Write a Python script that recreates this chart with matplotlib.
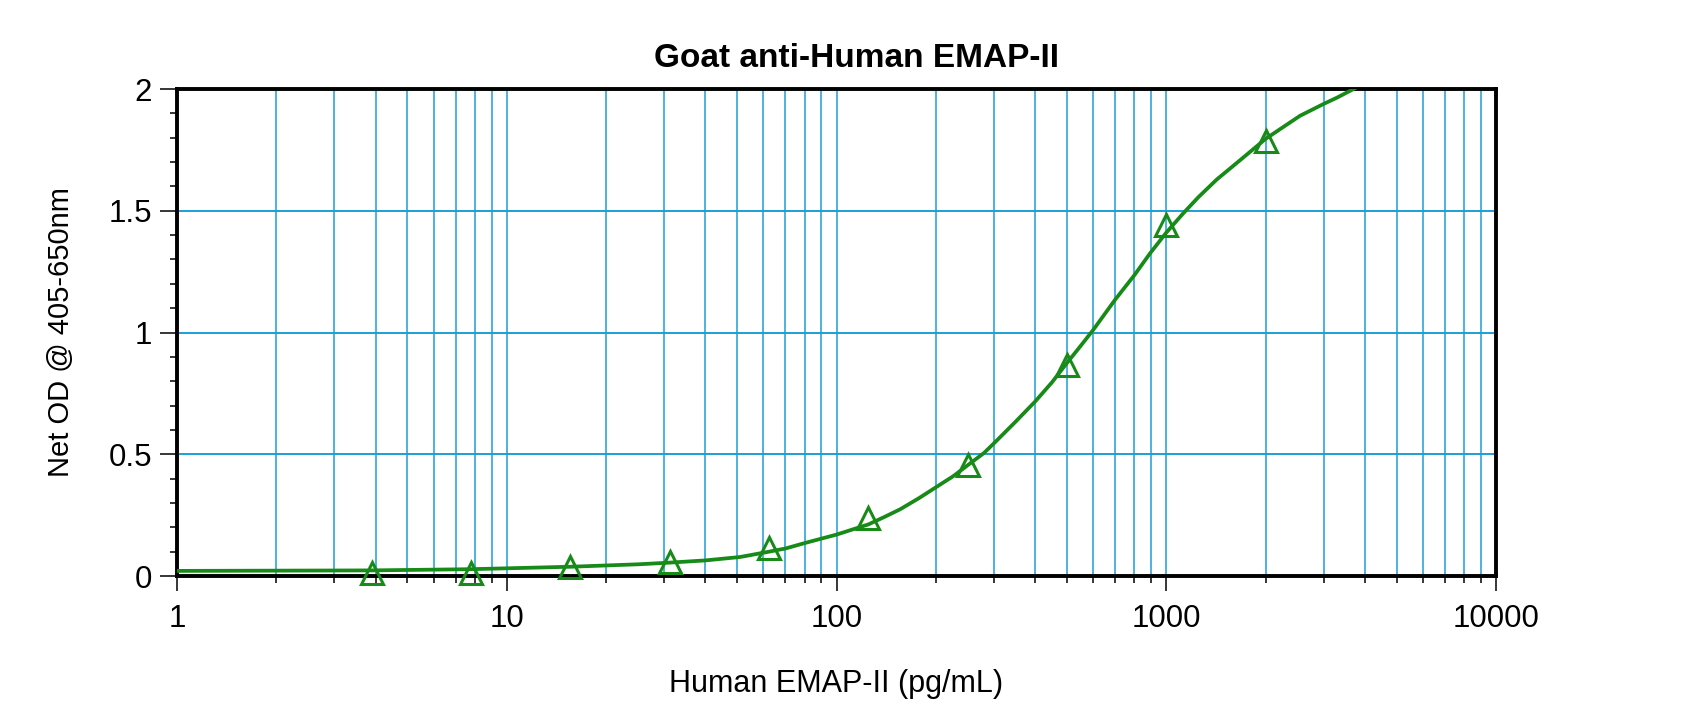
import matplotlib
matplotlib.use('Agg')
import matplotlib.pyplot as plt
from matplotlib.ticker import LogLocator, MultipleLocator, FixedLocator

# Pontos medidos (padrões)
conc = [3.9, 7.8, 15.6, 31.25, 62.5, 125, 250, 500, 1000, 2000]
od = [0.012, 0.012, 0.038, 0.058, 0.113, 0.238, 0.455, 0.865, 1.442, 1.785]

# Curva ajustada
curva_x = [1, 2, 3.9, 7.8, 15.6, 25, 31.25, 40, 51, 62.5, 70, 81, 100, 125,
           140, 156, 178, 200, 226, 250, 280, 306, 350, 400, 450, 500, 550,
           600, 650, 700, 800, 893, 1000, 1127, 1250, 1422, 1700, 2000, 2270,
           2545, 2994, 3300, 3736]
curva_y = [0.021, 0.022, 0.023, 0.028, 0.038, 0.048, 0.055, 0.064, 0.078,
           0.100, 0.113, 0.137, 0.170, 0.212, 0.243, 0.274, 0.320, 0.364,
           0.410, 0.455, 0.505, 0.556, 0.635, 0.716, 0.795, 0.875, 0.945,
           1.010, 1.075, 1.135, 1.235, 1.325, 1.410, 1.490, 1.555, 1.628,
           1.715, 1.795, 1.845, 1.890, 1.938, 1.965, 2.003]

x_ticks = [1, 10, 100, 1000, 10000]
x_labels = ['1', '10', '100', '1000', '10000']
y_ticks = [0, 0.5, 1, 1.5, 2]
y_labels = ['0', '0.5', '1', '1.5', '2']

titulo = 'Goat anti-Human EMAP-II'
rotulo_x = 'Human EMAP-II (pg/mL)'
rotulo_y = 'Net OD @ 405-650nm'

azul = '#1a9fd6'
verde = '#178a17'

plt.rcParams['font.family'] = ['Liberation Sans', 'DejaVu Sans']

fig = plt.figure(figsize=(17, 7.19), dpi=100)
ax = fig.add_axes([177 / 1700, 143 / 719, 1319 / 1700, 487 / 719])

ax.set_xscale('log')
ax.set_xlim(1, 10000)
ax.set_ylim(0, 2)

# grade: todas as linhas verticais (1..9 por década) e horizontais a cada 0.5
ax.xaxis.set_major_locator(FixedLocator(x_ticks))
ax.xaxis.set_minor_locator(LogLocator(base=10, subs=range(2, 10), numticks=20))
ax.set_xticklabels(x_labels)
ax.yaxis.set_major_locator(FixedLocator(y_ticks))
ax.yaxis.set_minor_locator(MultipleLocator(0.1))
ax.set_yticklabels(y_labels)

ax.grid(True, which='both', axis='x', color=azul, linewidth=1.1)
ax.grid(True, which='major', axis='y', color=azul, linewidth=1.4)
ax.set_axisbelow(True)

# curva e pontos
ax.plot(curva_x, curva_y, color=verde, linewidth=2.7, zorder=3,
        solid_joinstyle='round')
ax.plot(conc, od, linestyle='none', marker='^', markersize=16.5,
        markerfacecolor='none', markeredgecolor=verde, markeredgewidth=2.2,
        clip_on=False, zorder=5)

for s in ax.spines.values():
    s.set_linewidth(2.8)
    s.set_color('black')

ax.tick_params(which='major', direction='out', length=11, width=1.1,
               labelsize=22.5, pad=6)
ax.tick_params(which='minor', direction='out', length=5, width=1.1)
ax.tick_params(axis='y', which='major', length=12)
ax.tick_params(axis='x', which='major', pad=9)

ax.set_xlabel(rotulo_x, fontsize=22)
ax.xaxis.set_label_coords(0.5, -(692 - 576) / 487)
ax.xaxis.label.set_va('baseline')
ax.set_ylabel(rotulo_y, fontsize=21)
ax.yaxis.set_label_coords((61 - 177) / 1319, 0.5)
ax.yaxis.label.set_va('center')

fig.text(856 / 1700, 1 - 67 / 719, titulo, fontsize=24, fontweight='bold',
         ha='center', va='baseline')

plt.savefig('out.png', dpi=100)
